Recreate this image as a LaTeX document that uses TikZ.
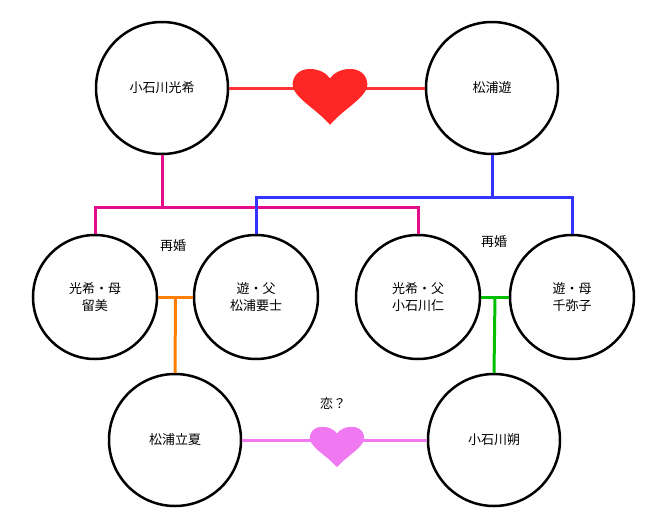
\documentclass[tikz,border=0pt]{standalone}
\usepackage{fontspec}
\setmainfont{Noto Sans CJK JP}
\usetikzlibrary{calc}
\definecolor{lovepink}{RGB}{240,120,240}
\tikzset{
  person/.style={circle, draw, line width=2.5pt, minimum size=132pt, inner sep=0pt, align=center, font=\fontsize{13}{17}\selectfont},
  link/.style={line width=3pt},
  heart/.pic={\fill (0,0.6) .. controls (-0.2,0.3) and (-0.55,0.1) .. (-0.5,-0.15)
      .. controls (-0.45,-0.45) and (-0.1,-0.4) .. (0,-0.2)
      .. controls (0.1,-0.4) and (0.45,-0.45) .. (0.5,-0.15)
      .. controls (0.55,0.1) and (0.2,0.3) .. (0,0.6);}
}
\begin{document}
\begin{tikzpicture}[x=1pt, y=-1pt]
  \useasboundingbox (0,0) rectangle (646,520);
  \node[person] (mitsuki) at (162,88) {小石川光希};
  \node[person] (yuu) at (492,88) {松浦遊};
  \node[person, minimum size=124pt] (rumi) at (95,297) {光希・母\\留美};
  \node[person, minimum size=124pt] (youji) at (256,297) {遊・父\\松浦要士};
  \node[person, minimum size=124pt] (jin) at (418,297) {光希・父\\小石川仁};
  \node[person, minimum size=124pt] (chiyako) at (572,297) {遊・母\\千弥子};
  \node[person] (rikka) at (175,440) {松浦立夏};
  \node[person] (saku) at (494,440) {小石川朔};
  % couples
  \draw[link, red!80] (mitsuki.east) -- (yuu.west);
  \path (330,90) pic[xscale=74, yscale=58, red!85] {heart};
  \draw[link, lovepink] (rikka.east) -- (saku.west);
  \path (337,442) pic[xscale=54, yscale=42, lovepink] {heart};
  % parents
  \draw[link, magenta!90!violet] (mitsuki.south) -- ++(0,52) coordinate (mj);
  \draw[link, magenta!90!violet] (rumi.north) |- (mj) -| (jin.north);
  \draw[link, blue!80] (yuu.south) -- ++(0,42) coordinate (bj);
  \draw[link, blue!80] (youji.north) |- (bj) -| (chiyako.north);
  % remarriages
  \draw[link, orange] (rumi.east) -- (youji.west) coordinate[pos=0.5] (oj);
  \draw[link, orange] (oj) -- (rikka.north);
  \draw[link, green!75!black] (jin.east) -- (chiyako.west) coordinate[pos=0.5] (gj);
  \draw[link, green!75!black] (gj) -- (saku.north);
  \node[font=\fontsize{13}{15}\selectfont] (r1) at (173,246) {再婚};
  \node[font=\fontsize{13}{15}\selectfont] (r2) at (494,242) {再婚};
  \node[font=\fontsize{13}{15}\selectfont] (koi) at (333,404) {恋？};
\end{tikzpicture}
\end{document}
